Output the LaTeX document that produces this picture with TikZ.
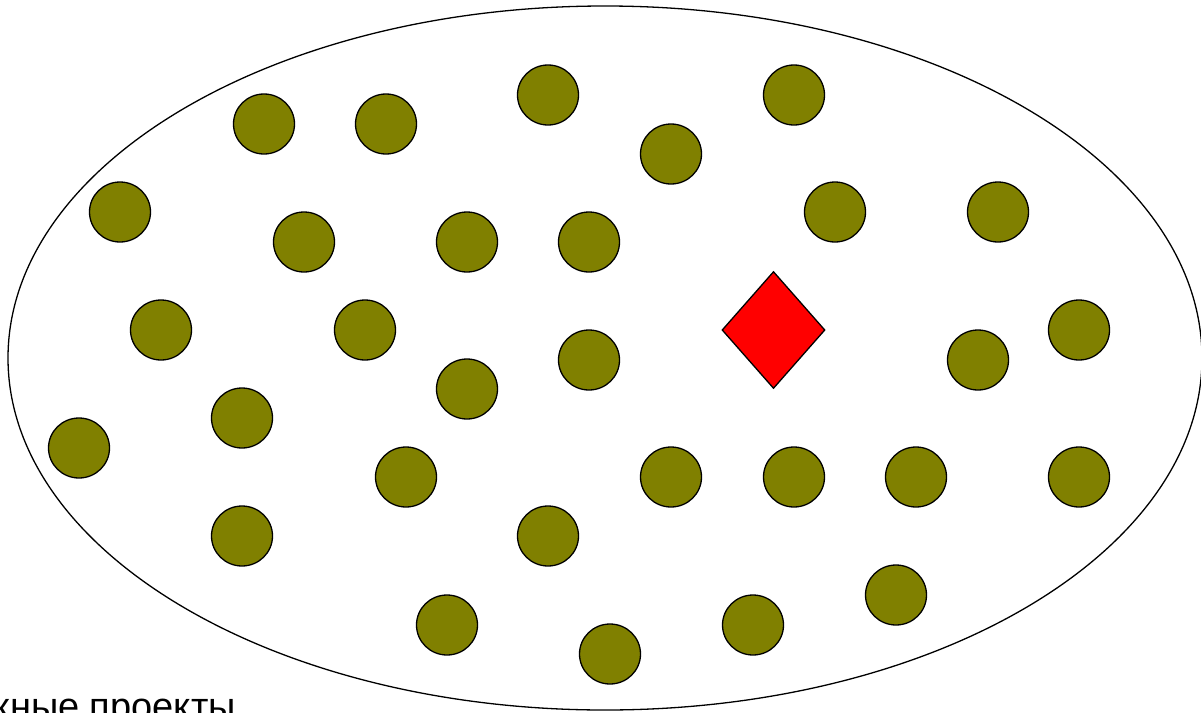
\documentclass[tikz,border=0pt]{standalone}
\usepackage{fontspec}
\setmainfont{Liberation Sans}
\usepackage{tikz}
\usetikzlibrary{shapes.geometric, positioning}
\definecolor{oliva}{RGB}{128,128,0}
\tikzset{
  conjunto/.style={ellipse, draw=black, line width=1.3pt, minimum width=1194pt, minimum height=704pt, inner sep=0pt},
  proyecto/.style={ellipse, draw=black, fill=oliva, line width=1.3pt, minimum width=61pt, minimum height=60pt, inner sep=0pt},
  destacado/.style={diamond, draw=black, fill=red, line width=1.3pt, minimum width=103pt, minimum height=117pt, inner sep=0pt},
  rotulo/.style={font=\fontsize{38}{44}\selectfont, inner sep=0pt}
}
\begin{document}
\begin{tikzpicture}[x=1pt, y=-1pt]
    \useasboundingbox (0,0) rectangle (1201,712);
    \clip (0,0) rectangle (1201,712);

    \node (conj) [conjunto] at (605,358) {};

    % Proyectos
    \foreach \px/\py [count=\i] in {264/124, 386/124, 548/95, 671/154, 794/95,
        120/212, 304/242, 467/242, 589/242, 835/212, 998/212,
        161/330, 365/330, 467/389, 589/360, 978/360, 1079/330,
        79/448, 242/418, 406/477, 671/477, 794/477, 916/477, 1079/477,
        242/536, 548/536,
        447/625, 610/654, 753/625, 896/595}
      \node (p\i) [proyecto] at (\px,\py) {};

    \node (rombo) [destacado] at (773.5,330) {};

    \node (titulo) [rotulo, anchor=base east] at (236,719) {Сложные проекты};

\end{tikzpicture}
\end{document}
